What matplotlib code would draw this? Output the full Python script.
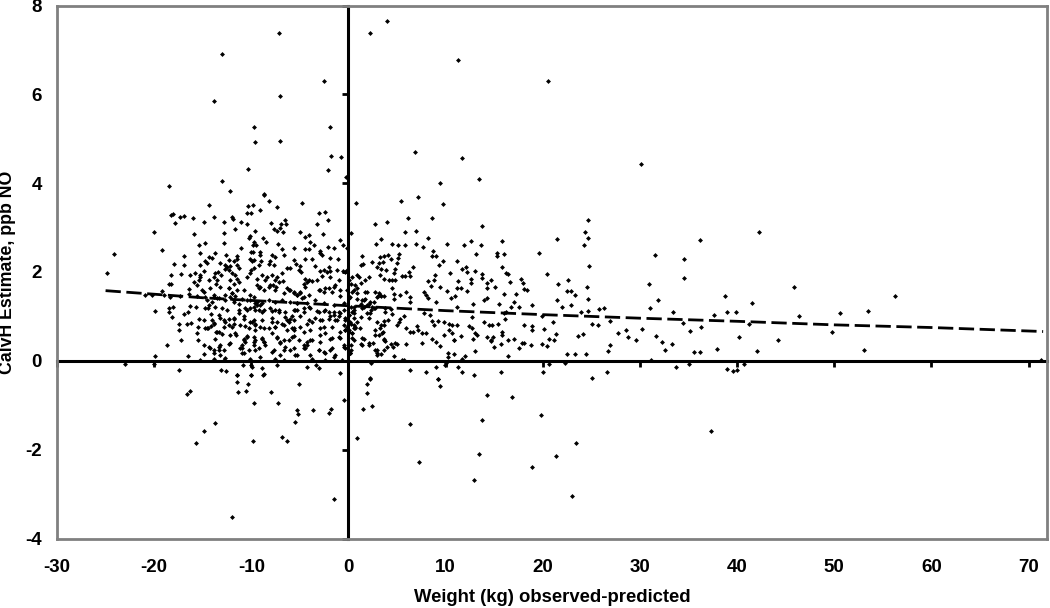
import matplotlib
matplotlib.use("Agg")
import matplotlib.pyplot as plt

plt.rcParams["font.family"] = ["Liberation Sans", "DejaVu Sans"]
plt.rcParams["axes.unicode_minus"] = False

# values, (weight, estimate)
top_points = [
    (-7.17,7.39),(-12.98,6.91),(-2.47,6.31),(-13.87,5.86),(-7.0,5.96),(-9.75,5.27),(-1.85,5.27),
    (-9.58,4.93),(-7.0,4.94),(-1.75,4.62),(-0.79,4.6),(-10.37,4.33),(-2.13,4.3),(-0.27,4.13),
    (-18.47,3.94),(-12.98,4.06),(-12.19,3.82),(-8.72,3.75),(2.2,7.38),(4.0,7.66),(11.3,6.78),
    (20.5,6.31),(6.8,4.7),(11.7,4.56),(9.4,4.0),(13.4,4.09),(30.1,4.43),
]

left_upper = [
    (-24.85,1.98),(-24.17,2.41),(-20.05,2.91),(-19.2,2.49),(-18.5,1.72),(-18.23,1.72),(-18.3,1.94),
    (-17.24,1.95),(-17.99,2.17),(-16.96,2.37),(-16.96,2.16),(-18.23,3.28),(-18.1,3.3),(-17.82,3.11),
    (-17.38,3.23),(-16.96,3.26),(-16.0,3.22),(-15.9,2.85),(-14.32,3.51),(-13.88,3.24),(-14.84,3.12),
    (-12.78,3.12),(-12.81,2.88),(-11.65,2.97),(-11.99,3.24),(-11.89,3.2),(-11.03,3.12),(-10.45,3.09),
    (-10.35,3.49),(-9.8,3.51),(-10.42,3.32),(-10.04,3.32),(-9.08,3.39),(-8.73,3.74),(-8.22,3.59),
    (-7.4,3.47),(-4.82,3.56),(-3.04,3.33),(-2.42,3.36),(-2.15,3.16),(-3.21,3.07),(-7.94,3.11),
    (-6.91,3.08),(-6.5,3.17),(-6.44,3.09),(-7.02,3.0),(-7.7,2.96),(-7.36,2.93),(-6.74,2.89),
    (-9.59,2.93),(-10.1,2.8),(-10.2,2.76),(-4.96,2.89),(-4.1,2.84),(-4.45,2.79),(-2.66,2.85),
    (-8.8,2.77),(-8.46,2.68),(-9.76,2.68),(-9.52,2.6),(-9.86,2.6),(-12.85,2.66),(-14.74,2.66),
    (-15.35,2.6),(-3.93,2.68),(-3.52,2.6),(-2.15,2.57),(-0.85,2.72),(-0.57,2.6),(-0.16,2.55),
    (-7.29,2.63),(-6.84,2.51),(-5.65,2.53),(-4.45,2.51),(-4.1,2.51),(-2.9,2.47),(-2.73,2.38),
    (-1.53,2.55),(-15.25,2.42),(-13.7,2.43),(-11.03,2.54),(-10.04,2.45),(-9.83,2.45),(-9.08,2.45),
    (-12.6,2.38),(-11.47,2.36),(-14.4,2.34),(-14.05,2.32),(-14.8,2.24),(-14.56,2.2),(-15.25,2.16),
    (-13.19,2.2),(-12.33,2.27),(-11.82,2.25),(-11.47,2.3),(-10.1,2.29),(-9.76,2.27),(-9.93,2.25),
    (-9.08,2.38),(-8.05,2.24),(-7.53,2.34),(-7.88,2.38),(-6.66,2.38),(-5.65,2.27),(-4.52,2.29),
    (-3.76,2.3),(-2.9,2.42),(-1.94,2.32),(-1.04,2.29),(-12.74,2.15),(-12.5,2.11),(-12.67,2.07),
    (-12.16,2.13),(-12.33,2.04),(-11.47,2.16),(-11.23,2.1),(-9.76,2.1),(-10.04,2.04),(-9.25,2.16),
    (-8.97,2.24),(-8.22,2.18),(-7.63,2.16),(-5.37,2.18),(-4.96,2.13),(-5.13,2.04),(-4.89,2.0),
    (-3.41,2.13),(-2.04,2.11),(-1.94,2.02),(-1.18,2.04),(-2.97,2.02),(-2.56,2.04),(-0.16,2.04),
    (-0.57,2.02),(-0.33,2.0),(-16.28,1.94),(-15.83,1.98),(-15.25,1.93),(-14.84,2.02),(-15.42,1.83),
    (-15.32,1.88),(-15.94,1.78),(-15.59,1.7),(-13.7,1.97),(-13.46,2.0),(-13.12,1.93),(-13.88,1.89),
    (-13.53,1.83),(-13.6,1.74),(-13.26,1.67),(-14.22,1.63),(-14.4,1.81),(-11.99,1.97),(-11.65,1.93),
    (-11.47,1.85),(-12.16,1.82),(-11.82,1.74),(-11.3,1.78),(-10.45,1.88),(-10.17,1.97),(-9.42,1.85),
    (-8.9,1.93),(-8.63,1.82),(-8.38,1.88),(-7.87,1.93),(-7.36,1.88),(-6.84,1.97),(-6.33,2.08),
    (-5.99,2.08),(-7.53,1.82),(-7.19,1.78),(-6.74,1.8),(-7.77,1.71),(-7.43,1.67),(-8.05,1.71),
    (-9.42,1.7),(-9.08,1.67),(-8.73,1.59),(-4.45,1.85),(-4.1,1.83),(-3.76,1.8),(-3.24,1.82),
    (-2.73,1.91),(-2.2,2.0),(-1.87,1.88),(-1.0,1.83),(-4.6,1.74),(-4.27,1.78),(-2.9,1.59),
    (-2.56,1.55),(-2.04,1.63),(-1.7,1.55),(-1.35,1.7),(-0.84,1.59),(0.36,1.89),(0.02,1.82),
    (0.88,1.63),(1.06,1.89),(-0.16,1.59),(0.18,1.44),(-5.65,1.55),(-5.3,1.48),(-4.96,1.52),
    (-4.62,1.44),(-5.99,1.59),(-6.33,1.63),(-12.33,1.63),(-11.99,1.52),(-12.16,1.44),(-11.47,1.59),
    (-12.67,1.48),(-16.44,1.61),(-15.07,1.59),(-19.2,1.57),(-18.35,1.44),(-20.9,1.48),(-20.22,1.49),
    (-18.95,1.48),(-17.3,1.46),(-16.44,1.5),(-15.59,1.46),(-14.74,1.43),(-13.88,1.44),(-13.36,1.41),
    (-11.82,1.37),(-11.3,1.29),(-10.45,1.37),(-9.76,1.43),(-9.42,1.33),(-9.08,1.26),
]

left_lower = [
    (-19.88,1.13),(-19.88,0.11),(-18.68,0.36),
    (-18.5,1.18),(-18.1,1.22),(-18.5,1.1),(-18.13,0.98),(-16.97,1.05),(-16.55,1.1),(-16.28,1.23),
    (-15.66,1.22),(-14.39,1.25),(-14.5,1.18),(-14.12,1.05),(-13.36,1.03),(-13.81,0.84),(-14.15,0.78),
    (-12.51,1.14),(-12.34,0.95),(-12.85,0.93),(-11.82,0.95),(-11.31,1.14),(-10.79,0.95),(-10.45,1.14),
    (-9.76,1.22),(-9.42,1.25),(-9.25,1.14),(-8.73,1.14),(-7.88,1.13),(-7.53,1.14),(-7.19,1.1),
    (-6.5,0.99),(-5.99,0.95),(-5.3,1.14),(-4.62,1.18),(-4.1,1.22),(-3.25,1.13),(-2.56,1.13),
    (-2.05,1.1),(-1.53,1.03),(-1.02,1.1),(-0.5,1.14),(0.01,1.03),(0.53,1.07),(-17.48,0.82),
    (-17.48,0.7),(-16.62,0.82),(-16.18,0.86),(-15.42,0.95),(-15.53,0.77),(-14.74,0.73),(-14.5,0.73),
    (-15.59,0.62),(-15.53,0.47),(-17.24,0.47),(-13.36,0.65),(-13.02,0.6),(-12.16,0.58),(-11.58,0.58),
    (-13.6,0.65),(-12.34,0.8),(-11.82,0.84),(-11.13,0.8),(-10.62,0.78),(-10.11,0.88),(-9.59,0.84),
    (-9.76,0.91),(-9.08,0.76),(-8.73,0.73),(-7.88,0.88),(-7.53,0.76),(-6.85,0.84),(-6.16,0.88),
    (-5.65,0.69),(-4.96,0.76),(-4.27,0.84),(-3.76,0.88),(-2.9,0.91),(-2.56,0.76),(-2.05,0.95),
    (-1.36,0.91),(-1.02,1.0),(-0.5,0.8),(0.18,0.88),(0.7,0.76),(-10.79,0.5),(-10.45,0.54),
    (-10.62,0.43),(-10.96,0.35),(-9.76,0.54),(-9.59,0.46),(-8.9,0.5),(-8.73,0.43),(-7.88,0.62),
    (-7.36,0.54),(-6.68,0.46),(-6.33,0.69),(-5.82,0.54),(-4.62,0.35),(-4.27,0.43),(-3.76,0.48),
    (-2.9,0.58),(-2.39,0.62),(-1.87,0.5),(-1.02,0.54),(0.01,0.69),(0.36,0.62),(-14.39,0.32),
    (-13.88,0.24),(-13.19,0.35),(-13.36,0.24),(-12.34,0.39),(-11.13,0.28),(-10.96,0.17),(-9.76,0.35),
    (-9.59,0.24),(-8.56,0.35),(-7.88,0.2),(-7.02,0.43),(-6.5,0.32),(-5.99,0.24),(-5.3,0.13),
    (-4.45,0.28),(-3.76,0.05),(-3.07,0.24),(-2.39,0.17),(-1.87,0.24),(-1.36,0.13),(-0.5,0.32),
    (0.18,0.17),(-14.91,0.15),(-13.88,0.05),(-12.85,0.03),(-16.55,0.1),(-15.25,0.03),(-10.11,0.05),
    (-7.53,0.05),(-6.68,0.03),(-2.39,0.03),(-0.67,0.02),
]

# second pass over the dense part, left of zero
dense_left = [
    (-14.9,1.56),(-13.87,1.48),(-12.32,1.63),(-11.98,1.52),(-11.64,1.45),(-10.78,1.6),(-10.1,1.48),
    (-9.24,1.63),(-8.21,1.67),(-7.52,1.6),(-6.67,1.52),(-6.15,1.6),(-5.29,1.48),(-14.55,1.37),
    (-14.04,1.33),(-13.52,1.41),(-12.67,1.37),(-11.81,1.33),(-10.95,1.39),(-10.1,1.37),(-9.58,1.3),
    (-8.9,1.3),(-8.21,1.37),(-7.52,1.33),(-6.84,1.37),(-5.98,1.33),(-5.29,1.3),(-14.73,1.18),
    (-13.7,1.22),(-13.01,1.18),(-11.3,1.07),(-10.61,1.18),(-10.1,1.18),(-9.58,1.15),(-8.9,1.11),
    (-8.04,1.18),(-7.18,1.15),(-6.49,1.11),(-5.64,1.15),(-14.83,0.93),(-14.04,0.92),(-13.87,0.85),
    (-13.18,0.96),(-12.67,0.88),(-11.81,0.96),(-10.78,1.0),(-9.92,0.88),(-9.58,0.81),(-8.9,0.92),
    (-7.87,0.96),(-7.35,0.88),(-6.32,0.92),(-5.81,1.0),(-14.55,0.73),(-13.52,0.66),(-12.84,0.77),
    (-11.98,0.77),(-11.64,0.62),(-10.27,0.73),(-9.58,0.7),(-8.21,0.73),(-7.52,0.77),(-6.67,0.81),
    (-5.64,0.73),(-13.7,0.49),(-12.22,0.4),(-10.78,0.47),(-10.44,0.55),(-9.75,0.43),(-8.9,0.51),
    (-8.72,0.43),(-7.35,0.51),(-7.01,0.4),(-6.15,0.47),(-14.9,0.36),(-14.21,0.28),(-13.35,0.32),
    (-12.84,0.25),(-10.95,0.28),(-10.27,0.25),(-9.24,0.28),(-7.69,0.25),(-6.67,0.25),(-5.64,0.28),
    (-13.87,0.17),(-13.18,0.13),(-10.78,0.17),(-9.07,0.09),(-7.01,0.13),(-12.67,0.06),
]

# second pass around zero
dense_mid = [
    (-5.63,1.52),(-4.94,1.56),(-4.43,1.67),(-4.08,1.48),(-3.05,1.6),(-2.37,1.63),(-1.51,1.67),
    (-0.83,1.45),(0.55,1.6),(1.75,1.56),(3.12,1.52),(3.63,1.45),(-5.28,1.3),(-4.77,1.41),(-4.25,1.3),
    (-3.4,1.37),(-2.54,1.3),(-1.51,1.26),(-0.48,1.3),(0.55,1.22),(1.58,1.37),(2.26,1.33),(2.61,1.18),
    (3.81,1.18),(-5.46,1.15),(-4.6,1.11),(-3.91,1.18),(-3.05,1.11),(-2.37,1.15),(-1.51,1.11),(-0.83,1.07),
    (0.38,1.11),(1.41,1.18),(2.26,1.07),(-5.63,0.92),(-4.94,1.0),(-4.08,0.92),(-3.4,0.96),(-2.71,0.92),
    (-1.85,1.0),(-1.17,0.92),(-0.31,0.96),(0.55,0.96),(2.09,0.96),(2.95,0.88),(-5.8,0.73),(-4.6,0.66),
    (-3.91,0.7),(-2.88,0.73),(-1.68,0.77),(-0.83,0.66),(-0.31,0.7),(0.55,0.73),(1.23,0.73),(2.78,0.7),
    (3.63,0.81),(-5.63,0.55),(-5.11,0.47),(-3.91,0.47),(-4.25,0.36),(-4.6,0.28),(-2.88,0.43),(-1.68,0.51),
    (-0.83,0.51),(0.38,0.51),(1.41,0.51),(3.12,0.58),(3.63,0.47),(-5.46,0.13),(-3.05,0.25),(-2.54,0.21),
    (-1.68,0.28),(-0.31,0.28),(1.41,0.36),(2.09,0.36),(2.95,0.25),(3.98,0.32),(-3.91,0.13),(-1.51,0.09),
    (0.2,0.17),(2.95,0.13),
]

right_upper = [
    (0.8,3.56),(5.43,3.6),(7.2,3.69),(9.69,3.53),(6.15,3.22),(8.62,3.22),(2.75,3.09),(3.92,3.12),
    (13.77,3.03),(0.28,2.88),(5.87,2.89),(6.94,2.93),(8.17,2.77),(24.7,3.17),(24.38,2.91),(24.69,2.77),
    (21.43,2.74),(3.3,2.74),(2.85,2.64),(4.47,2.62),(5.09,2.61),(5.87,2.6),(6.94,2.62),(7.63,2.56),
    (10.13,2.64),(11.88,2.6),(12.64,2.7),(13.6,2.6),(15.83,2.7),(24.27,2.6),(8.72,2.47),(8.62,2.35),
    (8.96,2.35),(13.08,2.41),(15.3,2.42),(15.3,2.35),(16.0,2.41),(19.64,2.43),(1.41,2.35),(4.09,2.38),
    (3.64,2.35),(3.2,2.33),(4.33,2.29),(5.19,2.4),(5.09,2.31),(4.95,2.2),(2.44,2.22),(1.24,2.16),
    (1.45,2.18),(3.57,2.23),(3.13,2.2),(2.89,2.11),(3.3,2.07),(3.82,2.05),(4.78,2.06),(4.67,1.97),
    (6.66,2.12),(6.22,2.01),(9.34,2.16),(9.75,2.25),(11.13,2.25),(11.71,2.07),(12.12,2.11),(12.22,2.01),
    (12.98,2.03),(15.83,2.11),(16.24,1.98),(16.38,1.96),(24.79,2.14),(20.43,1.96),(8.9,1.94),(10.4,1.97),
    (13.77,1.96),(13.77,1.87),(5.5,1.91),(5.87,1.91),(6.32,1.91),(3.2,1.93),(3.64,1.84),(2.1,1.88),
    (0.9,1.93),(1.75,1.81),(1.24,1.76),(0.72,1.71),(0.31,1.72),(4.16,1.81),(4.5,1.81),(4.78,1.82),
    (8.21,1.8),(8.8,1.81),(11.3,1.8),(12.57,1.84),(12.64,1.75),(14.63,1.81),(14.22,1.75),(16.62,1.77),
    (17.79,1.84),(17.96,1.75),(22.56,1.81),(21.6,1.72),(8.45,1.69),(9.38,1.66),(14.22,1.63),(15.11,1.66),
    (24.58,1.66),(11.13,1.63),(11.61,1.63),(10.17,1.57),(12.16,1.57),(4.5,1.63),(18.06,1.62),(18.4,1.6),
    (22.52,1.58),(22.94,1.58),(7.76,1.56),(7.93,1.48),(16.0,1.5),(17.27,1.5),(23.31,1.48),(5.26,1.48),
    (5.94,1.54),(4.67,1.51),(2.78,1.56),(3.23,1.48),(3.37,1.46),(3.03,1.45),(1.86,1.56),(0.9,1.52),
    (0.38,1.54),(0.04,1.41),(11.0,1.45),(6.29,1.43),(6.32,1.33),(8.21,1.41),(8.96,1.33),(10.51,1.41),
    (14.29,1.41),(13.94,1.37),(4.67,1.39),(21.43,1.36),(24.69,1.39),(17.03,1.33),(15.49,1.28),(22.87,1.26),
    (22.0,1.21),(18.92,1.26),(17.6,1.22),(16.69,1.22),(11.2,1.21),(12.81,1.28),(23.97,1.11),(24.7,1.13),
    (25.79,1.16),
]

right_lower = [
    (16.26,1.1),(16.0,1.07),(16.16,0.95),(3.81,1.1),(4.33,1.16),(4.5,1.05),(5.35,0.95),(5.7,1.0),
    (7.75,1.07),(8.44,1.03),(5.18,0.88),(5.01,0.8),(3.64,0.9),(4.05,0.91),(8.61,0.9),(9.2,0.9),
    (9.81,0.88),(10.33,0.84),(10.67,0.8),(11.19,0.8),(12.73,0.99),(12.39,0.78),(12.73,0.75),(13.93,0.88),
    (14.44,0.8),(14.79,0.8),(15.37,0.83),(18.11,0.8),(18.9,0.78),(18.9,0.69),(20.17,0.71),(21.03,0.87),
    (19.9,1.0),(21.41,0.6),(20.62,0.5),(21.2,0.48),(25.08,0.84),(25.66,0.8),(3.3,0.8),(3.23,0.73),
    (2.78,0.58),(3.47,0.62),(3.64,0.5),(3.81,0.45),(3.57,0.65),(5.97,0.75),(6.31,0.65),(6.66,0.65),
    (7.07,0.78),(7.14,0.69),(7.58,0.62),(7.93,0.63),(8.85,0.8),(8.61,0.5),(9.06,0.43),(9.47,0.33),
    (9.81,0.58),(10.33,0.69),(10.67,0.62),(10.91,0.48),(11.6,0.56),(13.07,0.62),(13.24,0.58),(12.83,0.5),
    (14.27,0.54),(14.62,0.48),(14.89,0.54),(14.62,0.45),(14.96,0.32),(15.82,0.65),(15.82,0.58),(15.71,0.37),
    (16.43,0.46),(17.02,0.49),(17.53,0.29),(17.87,0.41),(18.11,0.41),(18.83,0.35),(19.9,0.39),(20.41,0.34),
    (23.6,0.57),(24.15,0.6),(1.24,0.39),(1.58,0.5),(2.1,0.4),(2.51,0.4),(2.78,0.25),(2.95,0.17),
    (3.64,0.24),(3.3,0.15),(4.33,0.38),(4.84,0.41),(5.01,0.38),(5.94,0.39),(4.6,0.32),(7.58,0.4),
    (10.84,0.46),(10.22,0.18),(10.84,0.15),(11.7,0.05),(12.04,0.1),(13.07,0.23),(10.22,0.09),(16.43,0.1),
    (22.5,0.15),(23.36,0.15),(24.4,0.15),(4.67,0.1),(5.53,0.03),(5.7,0.02),(0.21,0.84),(0.55,0.8),
    (0.9,0.88),(0.04,0.65),(0.38,0.62),(0.72,0.73),(-0.13,0.77),(-0.31,0.69),(0.55,0.46),(0.21,0.35),
    (-0.48,0.35),(0.14,0.17),(0.31,0.24),(1.24,0.99),(1.92,1.07),(2.27,1.14),(1.58,1.22),(2.1,1.29),
    (2.61,1.33),(1.24,1.29),(0.55,1.14),(0.04,1.03),(-0.31,0.91),(0.21,1.22),(0.9,1.4),(1.41,1.37),
    (1.92,1.25),(2.44,1.22),(2.78,1.18),(1.75,1.4),(2.95,1.44),
]

far_right = [
    (42.3,2.89),(36.2,2.73),(31.55,2.39),(34.56,2.29),(34.56,1.86),(30.93,1.74),(45.9,1.67),(31.9,1.36),
    (31.03,1.2),(26.3,1.18),(38.75,1.47),(56.3,1.47),(41.5,1.3),(33.4,1.1),(39.0,1.1),(39.9,1.1),
    (37.65,1.04),(46.35,1.02),(50.6,1.07),(53.45,1.12),(26.9,0.89),(34.4,0.86),(36.25,0.76),(35.2,0.68),
    (41.2,0.84),(30.2,0.71),(28.6,0.7),(27.7,0.62),(28.8,0.54),(29.55,0.46),(31.65,0.56),(32.3,0.42),
    (33.3,0.39),(32.6,0.25),(26.9,0.35),(26.7,0.23),(35.6,0.19),(36.15,0.21),(37.9,0.27),(40.15,0.54),
    (42.0,0.23),(44.2,0.46),(49.8,0.65),(53.1,0.25),(71.3,0.03),(31.1,0.02),
]

below_axis = [
    (-23.03,-0.08),(-19.98,-0.07),(-17.4,-0.2),(-13.09,-0.2),(-12.64,-0.22),(-11.48,-0.33),(-10.86,-0.1),
    (-10.04,-0.1),(-9.93,-0.14),(-10.07,-0.33),(-8.9,-0.16),(-8.77,-0.31),(-7.33,-0.1),(-4.27,-0.14),
    (-3.38,-0.1),(-3.04,-0.16),(-0.85,-0.27),(2.34,-0.04),(6.38,-0.2),(7.93,-0.26),(9.06,-0.14),
    (10.09,-0.06),(9.98,-0.1),(11.25,-0.14),(11.7,-0.25),(12.9,-0.31),(15.71,-0.26),(20.0,-0.26),
    (20.62,-0.08),(22.3,-0.06),(25.08,-0.38),(2.2,-0.4),(9.23,-0.42),(26.6,-0.25),(33.67,-0.14),
    (35.1,-0.08),(39.55,-0.22),(40.7,-0.08),
    (-16.6,-0.75),(-16.35,-0.67),(-15.73,-1.84),(-14.9,-1.57),(-13.7,-1.39),(-12.0,-3.52),(-1.53,-3.1),
    (-9.8,-1.81),(-6.84,-1.72),(-6.33,-1.81),(-5.5,-1.37),(-5.26,-1.1),(-5.16,-1.2),(-3.65,-1.1),
    (-2.04,-1.18),(-1.8,-1.08),(-0.46,-0.88),(-5.06,-0.52),(-8.0,-0.71),(-9.7,-0.96),(-7.28,-0.96),
    (-11.47,-0.32),(-11.47,-0.48),(-11.4,-0.71),(-10.58,-0.69),(-10.3,-0.52),(-10.03,-0.32),(-8.72,-0.3),
    (0.87,-1.74),(1.5,-1.08),(2.4,-1.02),(1.87,-0.73),(1.94,-0.52),(2.2,-0.38),(6.3,-1.42),(7.25,-2.28),
    (9.2,-0.42),(9.4,-0.57),(14.3,-0.76),(16.8,-0.81),(13.75,-1.34),(19.8,-1.21),(13.4,-2.1),(12.9,-2.69),
    (18.85,-2.38),(21.4,-2.14),(23.4,-1.85),(23.0,-3.04),(37.3,-1.58),(40.0,-0.2),(39.0,-0.18),
]

trend_x = [-25, -15, 0, 10, 20, 30, 40, 50, 60, 71.5]
trend_y = [1.58, 1.42, 1.24, 1.13, 1.04, 0.96, 0.89, 0.81, 0.75, 0.66]

x_ticks = [-30, -20, -10, 0, 10, 20, 30, 40, 50, 60, 70]
y_ticks = [-4, -2, 0, 2, 4, 6, 8]

all_points = (top_points + left_upper + left_lower + dense_left + dense_mid
              + right_upper + right_lower + far_right + below_axis)
xs = [p[0] for p in all_points]
ys = [p[1] for p in all_points]

fig = plt.figure(figsize=(10.5, 6.08), dpi=100)
ax = fig.add_axes([57 / 1050, 1 - 538.5 / 608, (1047 - 57) / 1050, (538.5 - 5.5) / 608])

xmin, xmax = -30, 71.9
ax.set_xlim(xmin, xmax)
ax.set_ylim(-4, 8)

for s in ax.spines.values():
    s.set_color("#808080")
    s.set_linewidth(2)

ax.plot(xs, ys, linestyle="none", marker="D", markersize=2.5, color="black", markeredgewidth=0, zorder=3)
ax.plot(trend_x, trend_y, color="black", linewidth=2, dashes=(5.5, 2), zorder=4)

# tick labels stay on the frame, tick marks sit on the zero lines
ax.set_xticks(x_ticks)
ax.set_yticks(y_ticks)
ax.tick_params(axis="x", length=0, pad=15, labelsize=13.5)
ax.tick_params(axis="y", length=0, pad=11, labelsize=13.5)
for lab in ax.get_xticklabels() + ax.get_yticklabels():
    lab.set_fontweight("bold")

sec_y = ax.secondary_yaxis((0 - xmin) / (xmax - xmin))
sec_y.set_yticks(y_ticks)
sec_y.tick_params(length=4, width=2, color="black", labelleft=False)
sec_y.spines["left"].set_color("black")
sec_y.spines["left"].set_linewidth(2.2)

sec_x = ax.secondary_xaxis(4 / 12)
sec_x.set_xticks(x_ticks)
sec_x.tick_params(length=4, width=2, color="black", labelbottom=False)
sec_x.spines["bottom"].set_color("black")
sec_x.spines["bottom"].set_linewidth(2.2)

fig.text(552 / 1050, 1 - 597 / 608, "Weight (kg) observed-predicted", ha="center", va="center",
         fontsize=13.3, fontweight="bold")
fig.text(8 / 1050, 1 - 272 / 608, "CalvH Estimate, ppb NO", ha="center", va="center", rotation=90,
         fontsize=12.8, fontweight="bold")

fig.savefig("out.png", dpi=100)
